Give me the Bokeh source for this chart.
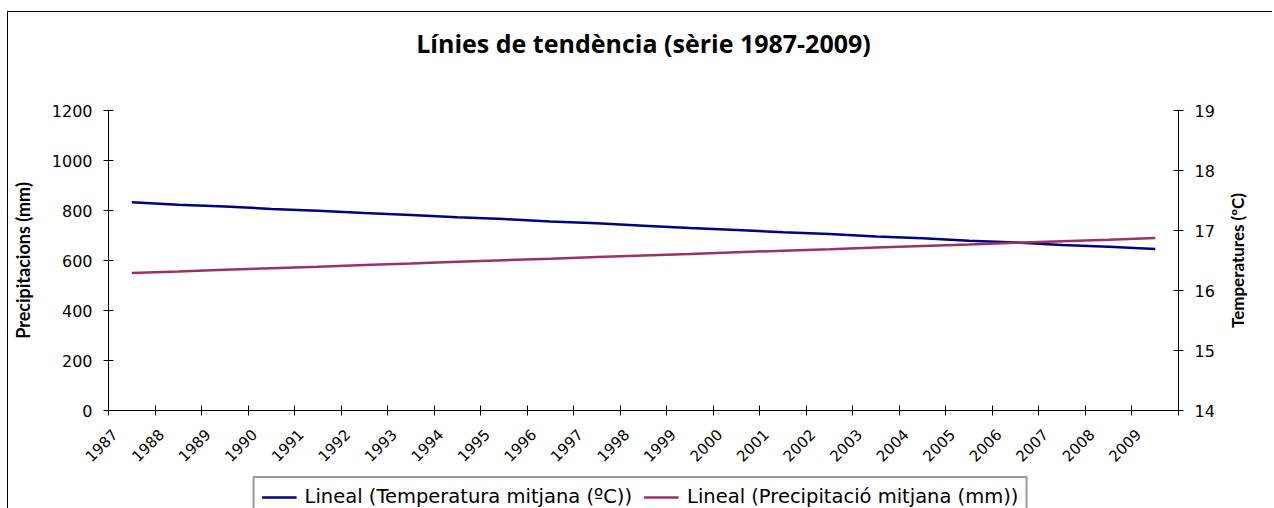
import math
from bokeh.plotting import figure
from bokeh.layouts import column, row
from bokeh.models import (Range1d, LinearAxis, FixedTicker, Legend, LegendItem,
                          Title)
from bokeh.embed import file_html
from bokeh.resources import INLINE

# ---- data ----
years = ["1987", "1988", "1989", "1990", "1991", "1992", "1993", "1994", "1995",
         "1996", "1997", "1998", "1999", "2000", "2001", "2002", "2003", "2004",
         "2005", "2006", "2007", "2008", "2009"]
temp_trend = [17.47, 17.43, 17.40, 17.36, 17.33, 17.29, 17.26, 17.22, 17.19, 17.15,
              17.12, 17.08, 17.04, 17.01, 16.97, 16.94, 16.90, 16.87, 16.83, 16.80,
              16.76, 16.73, 16.69]
precip_trend = [550, 556, 563, 569, 575, 582, 588, 595, 601, 607, 614, 620, 626,
                633, 639, 645, 652, 658, 664, 671, 677, 683, 690]
left_ticks = [0, 200, 400, 600, 800, 1000, 1200]
right_ticks = [14, 15, 16, 17, 18, 19]

title_text = "Línies de tendència (sèrie 1987-2009)"
left_label = "Precipitacions (mm)"
right_label = "Temperatures (ºC)"
temp_name = "Lineal (Temperatura mitjana (ºC))"
precip_name = "Lineal (Precipitació mitjana (mm))"

TEMP_COLOR = "#000080"
PRECIP_COLOR = "#993366"
TICK_FONT = "DejaVu Sans"
LABEL_FONT = "Lato"
TITLE_FONT = "Open Sans"
LABEL_SHIFT = 0.13  # year labels sit just right of each category boundary

n = len(years)
xs = [i + 0.5 for i in range(n)]  # category centres

# ---------------- main chart ----------------
p = figure(width=1216, height=458, output_backend="svg", toolbar_location=None,
           x_range=Range1d(0, n), y_range=Range1d(left_ticks[0], left_ticks[-1]),
           min_border_left=100, min_border_right=46, min_border_top=98,
           min_border_bottom=60, background_fill_color="white",
           border_fill_color="white")
p.outline_line_color = None
p.grid.visible = False
p.extra_y_ranges = {"temp": Range1d(right_ticks[0], right_ticks[-1])}
try:
    p.title_location = None
except Exception:
    p.title.text = ""

# blank spacer between frame and title, then the title itself
spacer = Title(text=" ", text_font_size="10px", standoff=38)
p.add_layout(spacer, "above")
main_title = Title(text=title_text, align="center", vertical_align="bottom",
                   standoff=0, text_font=TITLE_FONT, text_font_style="bold",
                   text_font_size="25px", text_color="black")
p.add_layout(main_title, "above")

# x axis: boundary tick marks (minor) + shifted year labels (major, no marks)
label_pos = [i + LABEL_SHIFT for i in range(n)]
xa = p.xaxis[0]
xa.ticker = FixedTicker(ticks=label_pos, minor_ticks=list(range(n + 1)))
xa.major_label_overrides = {pos: years[i] for i, pos in enumerate(label_pos)}
xa.major_label_orientation = math.pi / 4
xa.major_label_text_font = TICK_FONT
xa.major_label_text_font_size = "15px"
xa.major_label_text_color = "black"
xa.major_tick_in = 0
xa.major_tick_out = 5
xa.major_tick_line_color = None
xa.minor_tick_in = 5
xa.minor_tick_out = 5
xa.minor_tick_line_color = "black"
xa.axis_line_color = "black"
xa.major_label_standoff = 16

# left axis
ya = p.yaxis[0]
ya.ticker = FixedTicker(ticks=left_ticks)
ya.axis_label = left_label
ya.axis_label_text_font = LABEL_FONT
ya.axis_label_text_font_style = "bold"
ya.axis_label_text_font_size = "18px"
ya.axis_label_text_color = "black"
ya.axis_label_standoff = 15
ya.major_label_text_font = TICK_FONT
ya.major_label_text_font_size = "16px"
ya.major_label_text_color = "black"
ya.major_label_standoff = 11
ya.major_tick_in = 5
ya.major_tick_out = 5
ya.minor_tick_line_color = None
ya.axis_line_color = "black"
ya.major_tick_line_color = "black"

# right axis
ra = LinearAxis(y_range_name="temp", ticker=FixedTicker(ticks=right_ticks))
ra.major_label_text_font = TICK_FONT
ra.major_label_text_font_size = "16px"
ra.major_label_text_color = "black"
ra.major_label_standoff = 11
ra.major_tick_in = 5
ra.major_tick_out = 5
ra.minor_tick_line_color = None
ra.axis_line_color = "black"
ra.major_tick_line_color = "black"
p.add_layout(ra, "right")

# lines
p.line(xs, temp_trend, y_range_name="temp", line_color=TEMP_COLOR, line_width=2.5)
p.line(xs, precip_trend, line_color=PRECIP_COLOR, line_width=2.5)

# ---------------- right-hand axis title (reads bottom-to-top) ----------------
p3 = figure(width=48, height=458, output_backend="svg", toolbar_location=None,
            x_axis_location=None, y_axis_location=None,
            title=right_label, title_location="left",
            min_border_left=0, min_border_right=0, min_border_top=98,
            min_border_bottom=60, background_fill_color="white",
            border_fill_color="white")
p3.outline_line_color = None
p3.grid.visible = False
p3.title.align = "center"
p3.title.standoff = 0
p3.title.text_font = LABEL_FONT
p3.title.text_font_style = "bold"
p3.title.text_font_size = "17px"
p3.title.text_color = "black"

# ---------------- legend strip ----------------
# the same series are drawn here outside the visible range; they only
# supply the legend swatches
p2 = figure(width=1264, height=38, output_backend="svg", toolbar_location=None,
            x_axis_location=None, y_axis_location=None, min_border=0,
            x_range=Range1d(0, 1), y_range=Range1d(0, 1),
            background_fill_color="white", border_fill_color="white")
p2.outline_line_color = None
p2.grid.visible = False
lt = p2.line(xs, temp_trend, line_color=TEMP_COLOR, line_width=2.5)
lp = p2.line(xs, precip_trend, line_color=PRECIP_COLOR, line_width=2.5)
legend = Legend(items=[LegendItem(label=temp_name, renderers=[lt]),
                       LegendItem(label=precip_name, renderers=[lp])],
                orientation="horizontal", location="top_center",
                label_text_font=TICK_FONT, label_text_font_size="19.5px",
                label_text_color="black",
                glyph_width=35, glyph_height=20, label_height=20,
                label_standoff=8, spacing=12,
                padding=7, margin=6, border_line_color="#333333",
                border_line_width=2, background_fill_color="white",
                background_fill_alpha=1.0)
p2.add_layout(legend, "center")

layout = column(row(p, p3, spacing=0), p2, spacing=0)
layout.styles = {"margin-left": "7px", "margin-top": "11px",
                 "border-left": "1px solid #000", "border-top": "1px solid #000"}

open("out.html", "w").write(file_html(layout, INLINE))
